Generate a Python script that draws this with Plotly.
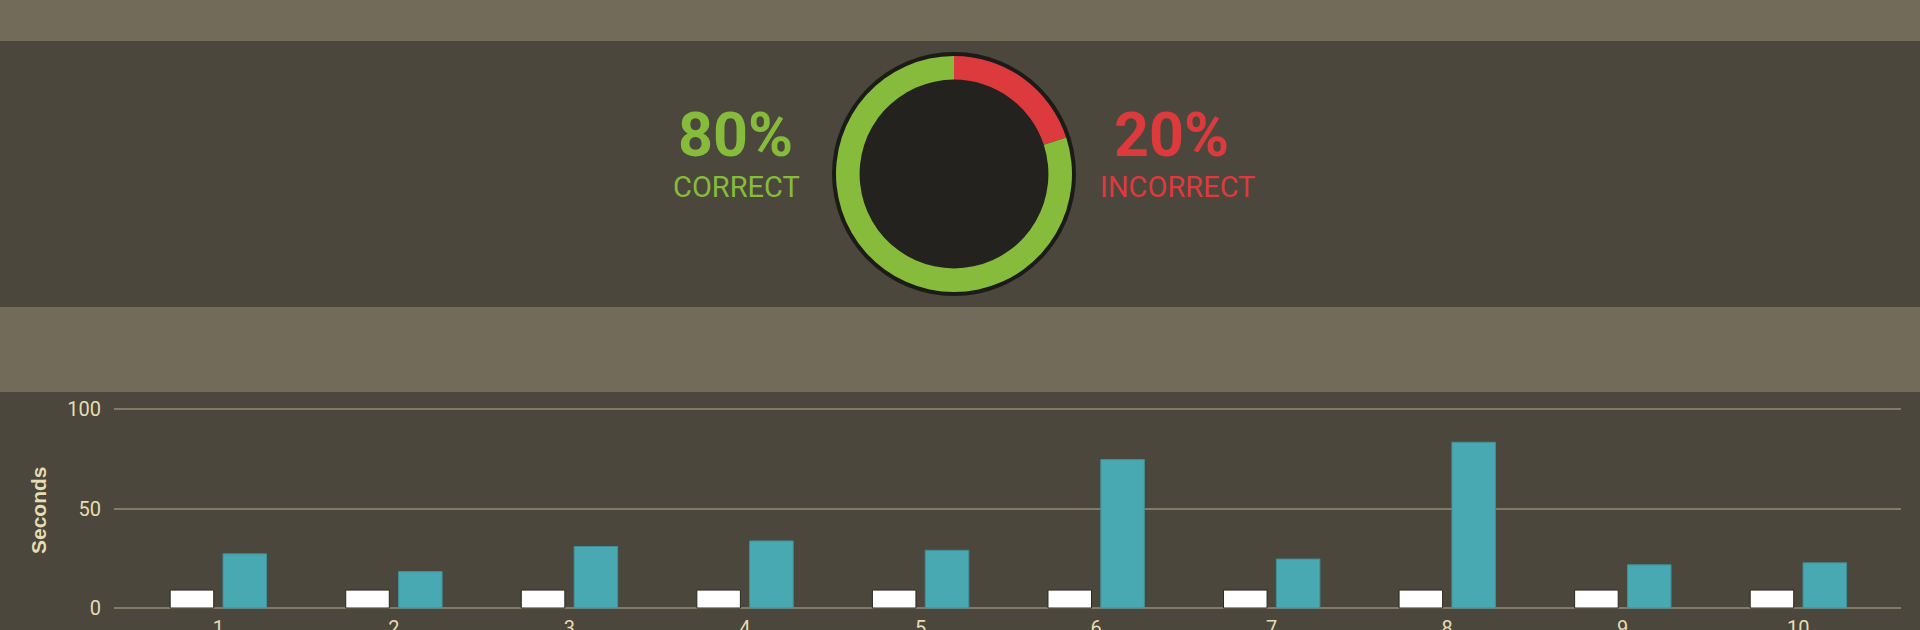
import plotly.graph_objects as go

# quiz result
result_labels = ["INCORRECT", "CORRECT"]
result_values = [20, 80]
result_colors = ["#dd3a3e", "#86bb3b"]

# time per question
questions = ["1", "2", "3", "4", "5", "6", "7", "8", "9", "10"]
target_seconds = [9, 9, 9, 9, 9, 9, 9, 9, 9, 9]
your_seconds = [27.2, 18.3, 30.9, 33.7, 29.0, 74.6, 24.6, 83.3, 21.7, 22.7]
y_ticks = [0, 50, 100]

W, H = 1920, 630
DARK = "#4b473c"
LIGHT = "#736b59"
TXT = "#e6ddb2"


def px_x(x):
    return x / W


def px_y(y):
    return 1 - y / H


fig = go.Figure()

# donut, centre (954,174), outer radius 118
cx, cy, r = 954, 174, 118
fig.add_trace(go.Pie(
    labels=result_labels,
    values=result_values,
    marker=dict(colors=result_colors, line=dict(width=0)),
    hole=0.8,
    sort=False,
    direction="clockwise",
    rotation=0,
    textinfo="none",
    showlegend=False,
    domain=dict(x=[px_x(cx - r), px_x(cx + r)], y=[px_y(cy + r), px_y(cy - r)]),
))

# bars: width and offsets in category units
bar_w = 0.248
fig.add_trace(go.Bar(
    x=questions, y=target_seconds, name="target",
    width=bar_w, offset=-0.274,
    marker=dict(color="#ffffff", line=dict(color="#2a2822", width=1)),
    showlegend=False,
))
fig.add_trace(go.Bar(
    x=questions, y=your_seconds, name="you",
    width=bar_w, offset=0.027,
    marker=dict(color="#48a9b3", line=dict(color="#3f9097", width=1)),
    showlegend=False,
))

shapes = [
    dict(type="rect", xref="paper", yref="paper", x0=0, x1=1, y0=px_y(41), y1=1,
         fillcolor=LIGHT, line=dict(width=0), layer="below"),
    dict(type="rect", xref="paper", yref="paper", x0=0, x1=1, y0=px_y(392), y1=px_y(307),
         fillcolor=LIGHT, line=dict(width=0), layer="below"),
]
for rad, col in [(122, "#1c1b17"), (95, "#23221e")]:
    shapes.append(dict(
        type="circle", xref="paper", yref="paper",
        xsizemode="pixel", ysizemode="pixel",
        xanchor=px_x(cx), yanchor=px_y(cy),
        x0=-rad, x1=rad, y0=-rad, y1=rad,
        fillcolor=col, line=dict(width=0), layer="below",
    ))

annotations = [
    dict(text=f"<b>{result_values[1]}%</b>", x=px_x(735), y=px_y(135),
         font=dict(family="Roboto", size=61, color=result_colors[1])),
    dict(text=result_labels[1], x=px_x(736), y=px_y(187),
         font=dict(family="Roboto", size=29, color=result_colors[1])),
    dict(text=f"<b>{result_values[0]}%</b>", x=px_x(1171), y=px_y(135),
         font=dict(family="Roboto", size=61, color=result_colors[0])),
    dict(text=result_labels[0], x=px_x(1177), y=px_y(187),
         font=dict(family="Roboto", size=29, color=result_colors[0])),
    dict(text="<b>Seconds</b>", x=px_x(38), y=px_y(510), textangle=-90,
         font=dict(family="Liberation Sans", size=21, color=TXT)),
]
for a in annotations:
    a.update(xref="paper", yref="paper", showarrow=False, xanchor="center", yanchor="middle")

# y range padded a little so the 0 and 100 grid lines are drawn
y0_px, y100_px = 608, 409
pad = 1.0
unit = (y0_px - y100_px) / 100

fig.update_layout(
    width=W, height=H,
    margin=dict(l=0, r=0, t=0, b=0),
    paper_bgcolor=DARK,
    plot_bgcolor="rgba(0,0,0,0)",
    barmode="overlay",
    shapes=shapes,
    annotations=annotations,
    font=dict(family="Roboto", color=TXT),
    xaxis=dict(
        domain=[px_x(114), px_x(1901)],
        range=[-0.594, 9.585],
        showgrid=False, zeroline=False, showline=False,
        tickfont=dict(family="Roboto", size=20, color=TXT),
        ticklabelstandoff=4,
        automargin=False,
    ),
    yaxis=dict(
        domain=[px_y(y0_px + pad * unit), px_y(y100_px - pad * unit)],
        range=[-pad, 100 + pad],
        tickvals=y_ticks,
        showgrid=True, gridcolor="#827a68", gridwidth=2,
        zeroline=False, showline=False,
        tickfont=dict(family="Roboto", size=20, color=TXT),
        ticklabelstandoff=12,
        automargin=False,
    ),
)

fig.write_html("out.html", config={"displayModeBar": False},
               post_script="document.body.style.margin='0';")
